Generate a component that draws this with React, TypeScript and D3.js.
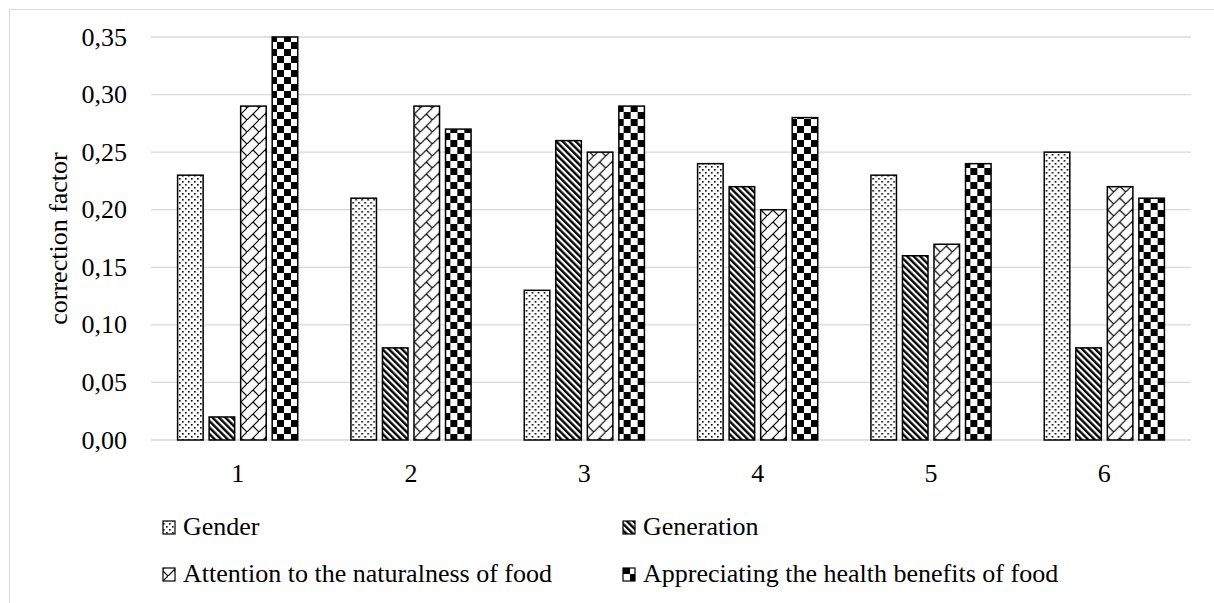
import React from "react";
import * as d3 from "d3";

const categories = ["1", "2", "3", "4", "5", "6"];
const seriesNames = [
  "Gender",
  "Generation",
  "Attention to the naturalness of food",
  "Appreciating the health benefits of food",
];
const gender = [0.23, 0.21, 0.13, 0.24, 0.23, 0.25];
const generation = [0.02, 0.08, 0.26, 0.22, 0.16, 0.08];
const attention = [0.29, 0.29, 0.25, 0.2, 0.17, 0.22];
const appreciating = [0.35, 0.27, 0.29, 0.28, 0.24, 0.21];
const yTicks = [0, 0.05, 0.1, 0.15, 0.2, 0.25, 0.3, 0.35];

const seriesValues = [gender, generation, attention, appreciating];
const patternIds = ["pDots", "pStripes", "pBrick", "pCheck"];

const W = 1214;
const H = 603;
const plot = { left: 151, right: 1191, top: 37, bottom: 440 };
const FONT = "Liberation Serif";
const FS = 26;

export default function App() {
  const x = d3
    .scaleBand<string>()
    .domain(categories)
    .range([plot.left, plot.right])
    .paddingInner(0)
    .paddingOuter(0);
  const xs = d3
    .scaleBand<number>()
    .domain([0, 1, 2, 3])
    .range([26.6, x.bandwidth() - 26.6])
    .paddingInner(0.19)
    .paddingOuter(0);
  const y = d3.scaleLinear().domain([0, 0.35]).range([plot.bottom, plot.top]);
  const fmt = (v: number) => d3.format(".2f")(v).replace(".", ",");

  const legendItems = [
    { x: 163, y: 535 },
    { x: 623, y: 535 },
    { x: 163, y: 582 },
    { x: 623, y: 582 },
  ];

  return (
    <svg
      width={W}
      height={H}
      style={{ position: "absolute", left: 0, top: 0, background: "#fff" }}
    >
      <defs>
        <pattern id="pDots" patternUnits="userSpaceOnUse" width="6" height="6">
          <rect width="6" height="6" fill="#fff" />
          <rect x="1" y="1" width="1.6" height="1.6" fill="#000" />
          <rect x="4" y="4" width="1.6" height="1.6" fill="#000" />
        </pattern>
        <pattern
          id="pStripes"
          patternUnits="userSpaceOnUse"
          width="4.6"
          height="4.6"
          patternTransform="rotate(-45)"
        >
          <rect width="4.6" height="4.6" fill="#fff" />
          <rect width="2.4" height="4.6" fill="#000" />
        </pattern>
        <pattern id="pBrick" patternUnits="userSpaceOnUse" width="12" height="12">
          <rect width="12" height="12" fill="#fff" />
          <path
            d="M-1,13 L13,-1 M6,6 L12,12"
            stroke="#000"
            strokeWidth="1.2"
            fill="none"
          />
        </pattern>
        <pattern id="pCheck" patternUnits="userSpaceOnUse" width="14" height="14">
          <rect width="14" height="14" fill="#fff" />
          <rect x="0" y="0" width="7" height="7" fill="#000" />
          <rect x="7" y="7" width="7" height="7" fill="#000" />
        </pattern>
      </defs>

      <rect x={9.5} y={9.5} width={W + 20} height={H + 20} fill="#fff" stroke="#d9d9d9" strokeWidth={1} />

      {yTicks.map((t) => (
        <g key={t}>
          <line
            x1={plot.left}
            x2={plot.right}
            y1={y(t)}
            y2={y(t)}
            stroke="#d9d9d9"
            strokeWidth={1.3}
          />
          <text
            x={127}
            y={y(t)}
            dy="0.33em"
            textAnchor="end"
            fontFamily={FONT}
            fontSize={FS}
            fill="#000"
          >
            {fmt(t)}
          </text>
        </g>
      ))}

      {categories.map((c, ci) => (
        <g key={c} transform={`translate(${x(c)},0)`}>
          {seriesValues.map((vals, si) => (
            <rect
              key={si}
              x={xs(si)}
              y={y(vals[ci])}
              width={xs.bandwidth()}
              height={y(0) - y(vals[ci])}
              fill={`url(#${patternIds[si]})`}
              stroke="#000"
              strokeWidth={1.5}
            />
          ))}
          <text
            x={x.bandwidth() / 2}
            y={482}
            textAnchor="middle"
            fontFamily={FONT}
            fontSize={FS}
            fill="#000"
          >
            {c}
          </text>
        </g>
      ))}

      <text
        transform={`translate(67,${(plot.top + plot.bottom) / 2}) rotate(-90)`}
        textAnchor="middle"
        fontFamily={FONT}
        fontSize={FS}
        fill="#000"
      >
        correction factor
      </text>

      {seriesNames.map((name, i) => (
        <g key={name}>
          <rect
            x={legendItems[i].x}
            y={legendItems[i].y - 14}
            width={12}
            height={13}
            fill={`url(#${patternIds[i]})`}
            stroke="#000"
            strokeWidth={1.2}
          />
          <text
            x={legendItems[i].x + 20}
            y={legendItems[i].y}
            fontFamily={FONT}
            fontSize={FS}
            fill="#000"
          >
            {name}
          </text>
        </g>
      ))}
    </svg>
  );
}
